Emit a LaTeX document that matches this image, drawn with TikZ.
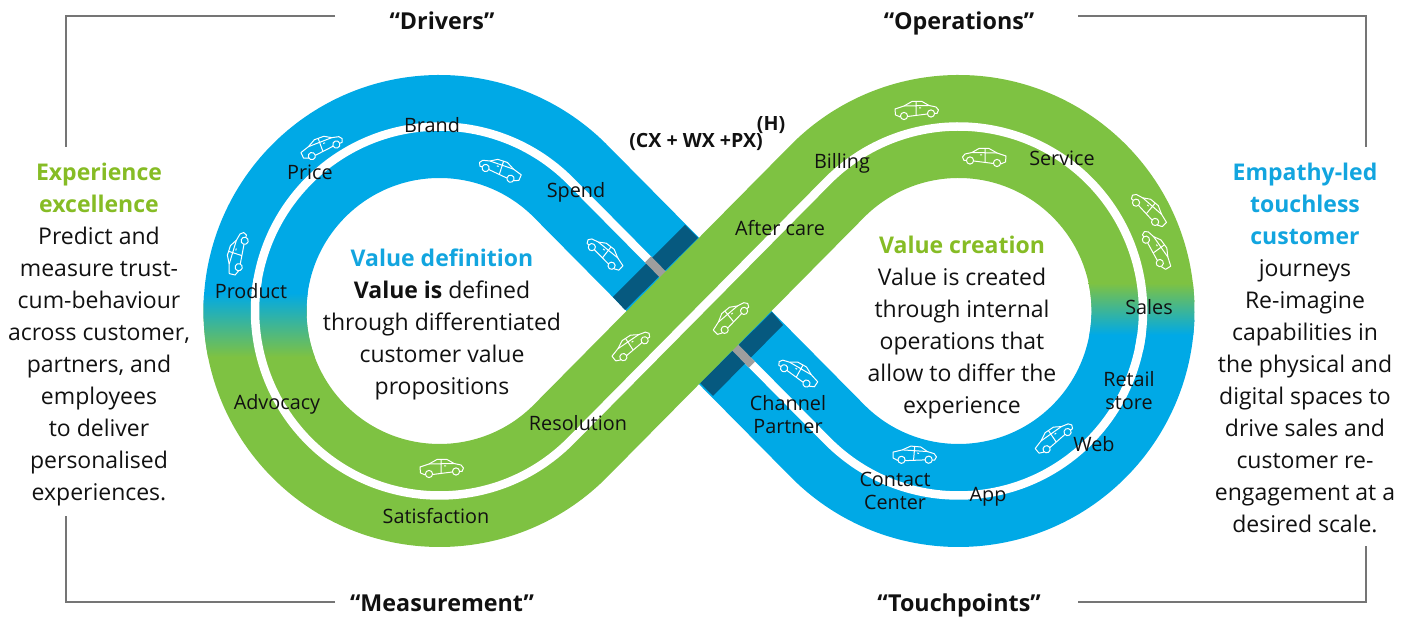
\documentclass[tikz,border=0pt]{standalone}
\usepackage{fontspec}
\setmainfont{Open Sans}
\usetikzlibrary{calc}
\definecolor{bandblue}{HTML}{00A9E6}
\definecolor{bandgreen}{HTML}{7EC242}
\definecolor{headgreen}{HTML}{86BC25}
\definecolor{headblue}{HTML}{12A5DF}
\definecolor{stripe}{HTML}{06597F}
\definecolor{framegray}{HTML}{757575}
\definecolor{ink}{HTML}{111111}
\newcommand\bluecourse{(439.5,306) ++(182:184.5) arc[start angle=182,end angle=45.3,radius=184.5] -- ([shift={(958.5,306)}]225.3:184.5) arc[start angle=225.3,end angle=358,radius=184.5]}
\newcommand\greencourse[2]{(958.5,306) ++(#1:184.5) arc[start angle=#1,end angle=134.7,radius=184.5] -- ([shift={(439.5,306)}]-45.3:184.5) arc[start angle=-45.3,end angle=#2,radius=184.5]}
\tikzset{
  x=1pt,y=1pt,
  bandstroke/.style={line width=103pt,line cap=butt},
  whiteline/.style={white,line width=8.5pt,line cap=butt},
  greyseg/.style={color=black!38,line width=8.5pt},
  framerule/.style={framegray,line width=2.4pt},
  col/.style={inner sep=0pt,align=center,text=ink,font=\fontsize{23}{32}\selectfont},
  lab/.style={inner sep=0pt,align=center,text=ink,font=\fontsize{19.8}{23}\selectfont},
  quote/.style={inner sep=0pt,anchor=base,text=ink,font=\fontsize{23.3}{26}\selectfont\bfseries},
  formula/.style={inner sep=0pt,text=ink,font=\fontsize{19.6}{22}\selectfont\bfseries},
  car/.pic={
    \begin{scope}[white,line width=1pt,line join=round]
      \draw (-21.5,-5) -- (-22,1) -- (-13,4) -- (-5,8.5) -- (5,8.5) -- (12,4.5) -- (19,3) -- (21.5,0) -- (20,-3.5) -- (17.6,-3.5)
            (10.4,-4) -- (-9.4,-6.5) (-16.6,-7) -- (-21.5,-5);
      \draw (-13,4) -- (12,4.5) (-1,8.5) -- (-1,-5.5) (2,2) -- (4,2);
      \draw (-13,-6) circle[radius=3.6] (14,-3.5) circle[radius=3.6];
    \end{scope}
  }
}
\begin{document}
\begin{tikzpicture}
\useasboundingbox (0,0) rectangle (1413,617);

% blue half
\draw[bandblue,bandstroke] \bluecourse;
\draw[whiteline] \bluecourse;
% shadow stripes beside the crossing
\fill[stripe] (685,392) -- (698,379) -- (625,307) -- (613,320) -- cycle;
\fill[stripe] (772,305) -- (783,292) -- (713,221) -- (700,234) -- cycle;
\draw[greyseg] (648,357.6) -- (664,341.4);
\draw[greyseg] (733,271.6) -- (752,252.4);
% green half
\draw[bandgreen,bandstroke] \greencourse{2}{-182};
% blends
\shade[top color=bandblue,bottom color=bandgreen]
  (439.5,306) ++(175.63:236) arc[start angle=175.63,end angle=191.24,radius=236]
  -- ([shift={(439.5,306)}]200.23:133) arc[start angle=200.23,end angle=172.22,radius=133] -- cycle;
\shade[top color=bandgreen,bottom color=bandblue]
  (958.5,306) ++(-5.84:236) arc[start angle=-5.84,end angle=6.81,radius=236]
  -- ([shift={(958.5,306)}]12.15:133) arc[start angle=12.15,end angle=-10.40,radius=133] -- cycle;
\draw[whiteline] \greencourse{-12}{-190};

% cars
\pic at (917,507) {car};
\pic[xscale=-1] at (984,460) {car};
\pic[rotate=20] at (322,471) {car};
\pic[rotate=72] at (237,364) {car};
\pic[rotate=-18,xscale=-1] at (500,448) {car};
\pic[rotate=-38,xscale=-1] at (605,364) {car};
\pic[rotate=33] at (631,272) {car};
\pic[rotate=39] at (731,300) {car};
\pic[rotate=-29,xscale=-1] at (798,245) {car};
\pic[rotate=-5] at (915,162) {car};
\pic[rotate=34] at (1054,180) {car};
\pic[rotate=-40,xscale=-1] at (1149,408) {car};
\pic[rotate=-54,xscale=-1] at (1157,368) {car};
\pic at (442,149) {car};

% frame corners
\coordinate (ftl) at (335,601); \coordinate (ftla) at (66,470);
\coordinate (ftr) at (1078,601); \coordinate (ftra) at (1366,470);
\coordinate (fbl) at (335,15); \coordinate (fbla) at (66,101);
\coordinate (fbr) at (1078,15); \coordinate (fbra) at (1366,71);
\draw[framerule] (ftl) -| (ftla);
\draw[framerule] (ftr) -| (ftra);
\draw[framerule] (fbl) -| (fbla);
\draw[framerule] (fbr) -| (fbra);

% corner captions
\node[quote] (drivers) at (442,587) {“Drivers”};
\node[quote] (operations) at (959,587) {“Operations”};
\node[quote] (measurement) at (442,5) {“Measurement”};
\node[quote] (touchpoints) at (959,5) {“Touchpoints”};
\node[formula] (cwp) at (696,475) {(CX + WX +PX)};
\node[formula] (hpow) at (771,492) {(H)};

% side columns
\node[col] (leftcol) at (99,282) {{\color{headgreen}\bfseries Experience}\\{\color{headgreen}\bfseries excellence}\\Predict and\\measure trust-\\cum-behaviour\\across customer,\\partners, and\\employees\\to deliver\\personalised\\experiences.};
\node[col] (rightcol) at (1305,269) {{\color{headblue}\bfseries Empathy-led}\\{\color{headblue}\bfseries touchless}\\{\color{headblue}\bfseries customer}\\journeys\\Re-imagine\\capabilities in\\the physical and\\digital spaces to\\drive sales and\\customer re-\\engagement at a\\desired scale.};

% inner texts
\node[col] (valdef) at (442,293) {{\color{headblue}\bfseries Value definition}\\\textbf{Value is} defined\\through differentiated\\customer value\\propositions};
\node[col] (valcre) at (962,289) {{\color{headgreen}\bfseries Value creation}\\Value is created\\through internal\\operations that\\allow to differ the\\experience};

% band labels
\node[lab] (brand) at (432,492) {Brand};
\node[lab] (price) at (310,445) {Price};
\node[lab] (product) at (251,326) {Product};
\node[lab] (advocacy) at (277,213) {Advocacy};
\node[lab] (satisfaction) at (436,101) {Satisfaction};
\node[lab] (resolution) at (578,194) {Resolution};
\node[lab] (aftercare) at (780,389) {After care};
\node[lab] (billing) at (842,454) {Billing};
\node[lab] (service) at (1062,459) {Service};
\node[lab] (sales) at (1149,310) {Sales};
\node[lab] (retail) at (1129,226) {Retail\\store};
\node[lab] (channel) at (788,202) {Channel\\Partner};
\node[lab] (contact) at (895,126) {Contact\\Center};
\node[lab] (app) at (988,120) {App};
\node[lab] (web) at (1094,173) {Web};
\node[lab] (spend) at (576,425) {Spend};
\end{tikzpicture}
\end{document}
